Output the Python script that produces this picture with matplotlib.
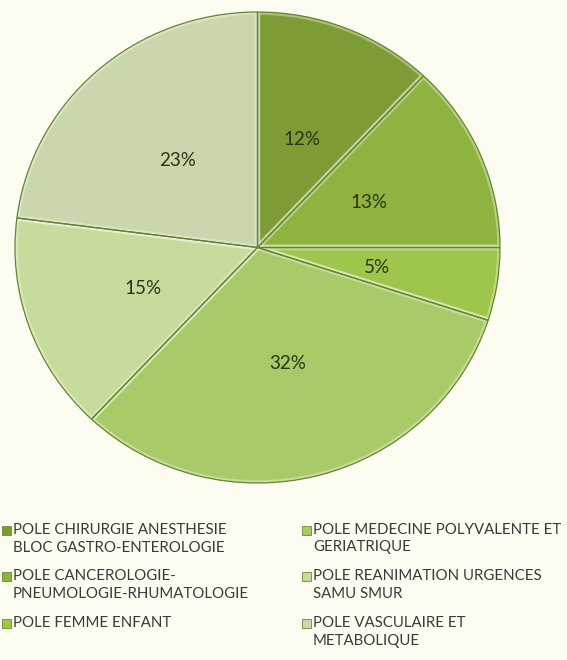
import matplotlib
matplotlib.use("Agg")
import matplotlib.pyplot as plt
from matplotlib.patches import Rectangle

# Répartition par pôle (%)
poles = [
    "POLE CHIRURGIE ANESTHESIE\nBLOC GASTRO-ENTEROLOGIE",
    "POLE CANCEROLOGIE-\nPNEUMOLOGIE-RHUMATOLOGIE",
    "POLE FEMME ENFANT",
    "POLE MEDECINE POLYVALENTE ET\nGERIATRIQUE",
    "POLE REANIMATION URGENCES\nSAMU SMUR",
    "POLE VASCULAIRE ET\nMETABOLIQUE",
]
parts = [12, 13, 5, 32, 15, 23]
colors = ["#7d9c36", "#8fb340", "#9ec64c", "#a9ca68", "#c7db9c", "#cad6ab"]

bg = "#fdfcf1"
W, H = 567, 660
plt.rcParams["font.family"] = ["Lato", "DejaVu Sans"]

fig = plt.figure(figsize=(W / 100, H / 100), dpi=100, facecolor=bg)
ax = fig.add_axes([15 / W, 177 / H, 485 / W, 471 / H])
ax.set_facecolor(bg)

# secteurs remplis + liseré clair (effet biseau)
wedges, texts, autotexts = ax.pie(
    parts, colors=colors, startangle=90, counterclock=False,
    autopct="%d%%", pctdistance=0.5, radius=1,
    wedgeprops=dict(edgecolor=(1, 1, 1, 0.35), linewidth=4),
    textprops=dict(fontsize=13.5, color="#2a3519"),
)
# contour foncé par-dessus
ax.pie(parts, startangle=90, counterclock=False, radius=1,
       wedgeprops=dict(fill=False, edgecolor="#66852a", linewidth=0.9))
for t in autotexts:
    t.set_va("center_baseline")
    t.set_zorder(5)
ax.set_aspect("auto")
ax.set_xlim(-1.0, 1.0)
ax.set_ylim(-1.0, 1.0)

# légende en deux colonnes, carré aligné sur la première ligne
col_x = [13, 313]
row_y0, row_step, line_step = 530, 46.5, 17.5
for i, (lab, c) in enumerate(zip(poles, colors)):
    x = col_x[i // 3]
    y = row_y0 + row_step * (i % 3)
    fig.add_artist(Rectangle(((x - 11) / W, 1 - (y + 4.5) / H), 9 / W, 9 / H,
                             transform=fig.transFigure, facecolor=c,
                             edgecolor="#6a8a2c", linewidth=0.6))
    for k, line in enumerate(lab.split("\n")):
        fig.text(x / W, 1 - (y + k * line_step) / H, line, fontsize=10.8,
                 color="#3a3a3a", ha="left", va="center")

fig.savefig("out.png", dpi=100, facecolor=bg)
